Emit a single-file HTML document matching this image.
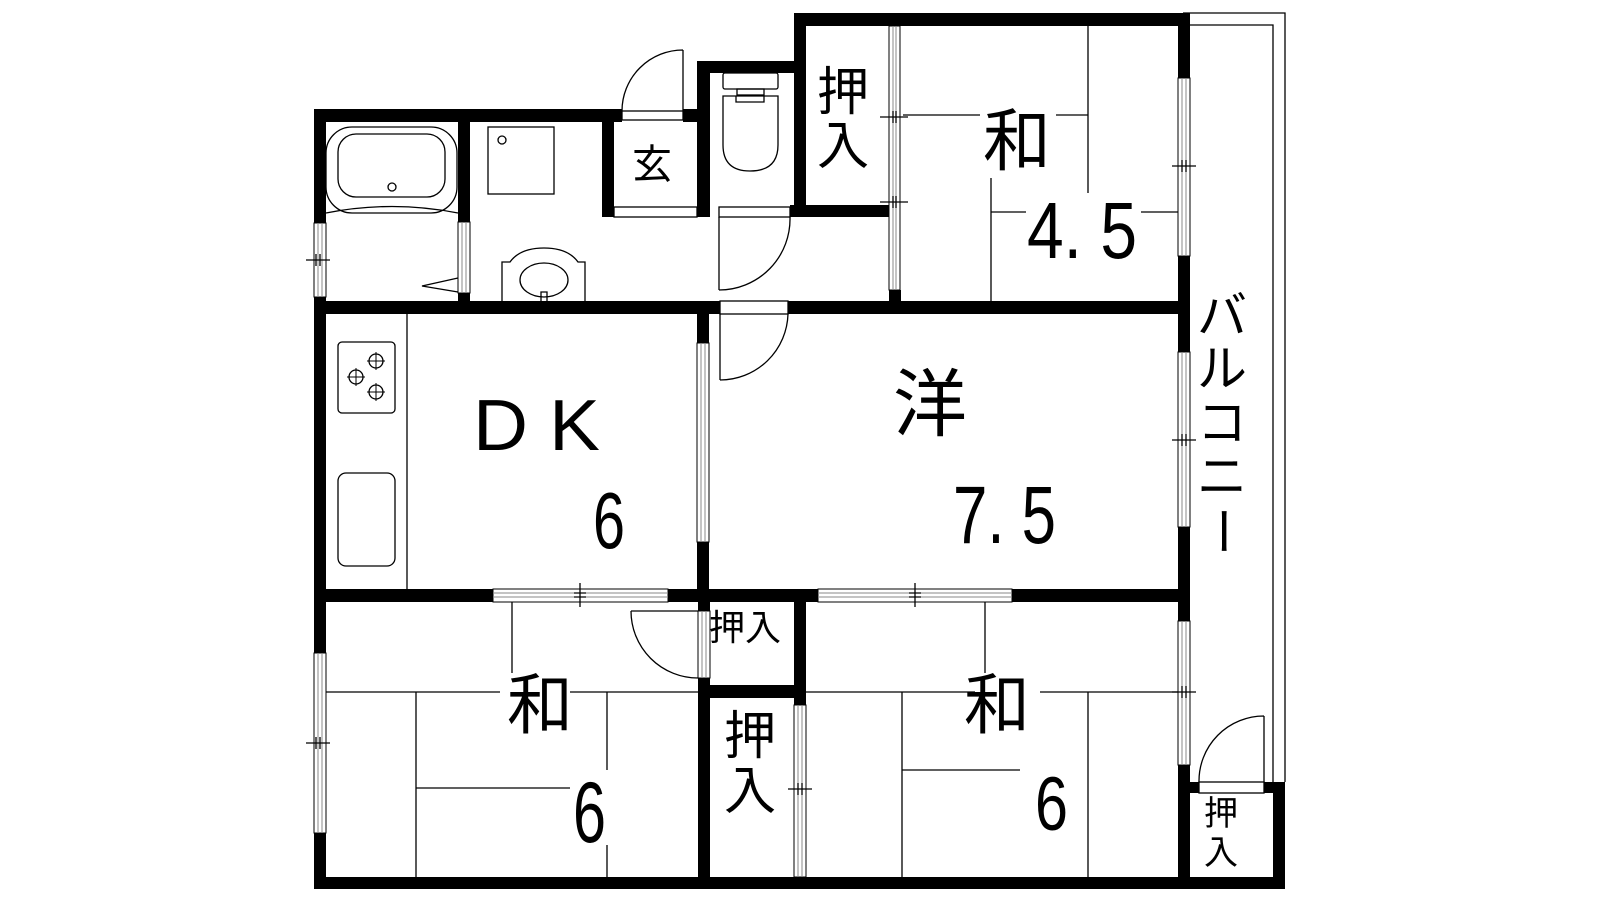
<!DOCTYPE html>
<html><head><meta charset="utf-8"><style>
html,body{margin:0;padding:0;background:#fff;}
svg{display:block;}
text{font-family:"Liberation Sans","Noto Sans CJK JP",sans-serif;fill:#000;}
.j{font-family:"Noto Sans CJK JP","Liberation Sans",sans-serif;}
</style></head><body>
<svg width="1600" height="900" viewBox="0 0 1600 900" xmlns="http://www.w3.org/2000/svg">
<rect width="1600" height="900" fill="#fff"/>
<g fill="none" stroke="#000" stroke-width="1.3">
<path d="M1183 13 H1285 V782"/>
<path d="M1190 25 H1273 V782"/>
<path d="M1088 26 V193 M903 115 H980 M1056 115 H1088 M991 178 V301 M991 212 H1026 M1141 212 H1178"/>
<path d="M512 602 V673 M326 692 H500 M570 692 H698 M416 692 V877 M416 788 H570 M607 692 V770 M607 845 V877"/>
<path d="M985 602 V673 M806 692 H975 M1040 692 H1178 M902 692 V877 M902 770 H1020 M1088 692 V877"/>
<path d="M407 314 V589"/>
<rect x="338" y="342" width="57" height="71" rx="4"/>
<rect x="338" y="473" width="57" height="93" rx="8"/>
<circle cx="356" cy="377" r="7"/><circle cx="376" cy="361" r="7"/><circle cx="376" cy="392" r="7"/>
<path d="M356 368v18M347 377h18M376 352v18M367 361h18M376 383v18M367 392h18" stroke-width="1"/>
<rect x="326" y="127" width="131" height="86" rx="26"/>
<rect x="338" y="134" width="107" height="63" rx="18"/>
<circle cx="392" cy="187" r="4"/>
<path d="M326 213 Q392 200 458 213"/>
<path d="M458 278 L422 286 L458 292"/>
<rect x="488" y="127" width="66" height="67"/>
<circle cx="502" cy="140" r="4"/>
<path d="M502 301 V262 H510 Q520 248 544 248 Q568 248 578 262 H585 V301"/>
<ellipse cx="544" cy="280" rx="24" ry="17"/>
<path d="M541 301 V292 H547 V301"/>
<rect x="723" y="73" width="55" height="16" rx="2"/>
<rect x="737" y="89" width="27" height="6"/>
<path d="M723 96 H778 V145 Q778 171 750 171 Q723 171 723 145 Z"/>
<path d="M736 96 V102 H764 V96"/>
<path d="M683 50 V111 M683 50 A61 61 0 0 0 622 111"/>
<rect x="622" y="111" width="61" height="9"/>
<path d="M719 217 V290 M719 290 A71 71 0 0 0 790 217"/>
<rect x="719" y="207" width="71" height="10"/>
<rect x="614" y="207" width="83" height="10"/>
<path d="M720 314 V380 M720 380 A68 68 0 0 0 788 314"/>
<rect x="720" y="301" width="68" height="13"/>
<path d="M631 611 H698 M631 611 A67 67 0 0 0 698 678"/>
<path d="M1264 716 V782 M1264 716 A65 65 0 0 0 1199 782"/>
<rect x="1199" y="782" width="65" height="11"/>
</g>
<g fill="#fff" stroke="#000" stroke-width="1">
<rect x="314" y="223" width="12" height="74"/><path d="M318 223v74M322 223v74" stroke="#888"/>
<rect x="458" y="222" width="12" height="71"/><path d="M462 222v71M466 222v71" stroke="#888"/>
<rect x="889" y="26" width="11" height="264"/><path d="M893 26v264M896 26v264" stroke="#888"/>
<rect x="1178" y="78" width="12" height="178"/><path d="M1182 78v178M1186 78v178" stroke="#888"/>
<rect x="1178" y="352" width="12" height="175"/><path d="M1182 352v175M1186 352v175" stroke="#888"/>
<rect x="1178" y="621" width="12" height="144"/><path d="M1182 621v144M1186 621v144" stroke="#888"/>
<rect x="697" y="343" width="12" height="199"/><path d="M701 343v199M705 343v199" stroke="#888"/>
<rect x="493" y="589" width="175" height="13"/><path d="M493 593h175M493 597h175" stroke="#888"/>
<rect x="818" y="589" width="194" height="13"/><path d="M818 593h194M818 597h194" stroke="#888"/>
<rect x="698" y="611" width="12" height="67"/><path d="M702 611v67M706 611v67" stroke="#888"/>
<rect x="794" y="705" width="12" height="172"/><path d="M798 705v172M802 705v172" stroke="#888"/>
<rect x="314" y="653" width="12" height="180"/><path d="M318 653v180M322 653v180" stroke="#888"/>
</g>
<g stroke="#000" stroke-width="1.3" fill="none">
<path d="M306 260h24M316 254v12M320 254v12"/>
<path d="M306 743h24M316 737v12M320 737v12"/>
<path d="M880 117h28M893 111v12M896 111v12M880 202h28M893 196v12M896 196v12"/>
<path d="M1172 166h24M1182 160v12M1186 160v12"/>
<path d="M1172 440h24M1182 434v12M1186 434v12"/>
<path d="M1172 692h24M1182 686v12M1186 686v12"/>
<path d="M788 789h24M798 783v12M802 783v12"/>
<path d="M580 583v24M574 593h12M574 597h12"/>
<path d="M915 583v24M909 593h12M909 597h12"/>
</g>
<g fill="#000">
<rect x="314" y="109" width="12" height="114"/>
<rect x="314" y="297" width="12" height="356"/>
<rect x="314" y="833" width="12" height="56"/>
<rect x="314" y="109" width="308" height="13"/>
<rect x="683" y="109" width="27" height="13"/>
<rect x="602" y="109" width="12" height="108"/>
<rect x="697" y="61" width="13" height="156"/>
<rect x="697" y="61" width="109" height="12"/>
<rect x="794" y="13" width="12" height="204"/>
<rect x="794" y="13" width="396" height="13"/>
<rect x="790" y="205" width="99" height="12"/>
<rect x="889" y="290" width="12" height="11"/>
<rect x="458" y="109" width="12" height="113"/>
<rect x="458" y="293" width="12" height="8"/>
<rect x="314" y="301" width="406" height="13"/>
<rect x="788" y="301" width="402" height="13"/>
<rect x="1178" y="13" width="12" height="65"/>
<rect x="1178" y="256" width="12" height="96"/>
<rect x="1178" y="527" width="12" height="94"/>
<rect x="1178" y="765" width="12" height="124"/>
<rect x="697" y="314" width="12" height="29"/>
<rect x="697" y="542" width="12" height="47"/>
<rect x="314" y="589" width="179" height="13"/>
<rect x="668" y="589" width="150" height="13"/>
<rect x="1012" y="589" width="178" height="13"/>
<rect x="698" y="602" width="12" height="9"/>
<rect x="698" y="678" width="12" height="211"/>
<rect x="794" y="602" width="12" height="103"/>
<rect x="698" y="685" width="108" height="13"/>
<rect x="314" y="877" width="971" height="12"/>
<rect x="1190" y="782" width="9" height="11"/>
<rect x="1264" y="782" width="21" height="11"/>
<rect x="1273" y="782" width="12" height="107"/>
</g>
<g class="j" text-anchor="middle">
<text x="652" y="178" font-size="40" class="j">玄</text>
<text x="843" y="110" font-size="52" class="j">押</text>
<text x="843" y="164" font-size="52" class="j">入</text>
<text x="1017" y="165" font-size="68" class="j">和</text>
<text x="930" y="430" font-size="74" class="j">洋</text>
<text x="540" y="728" font-size="66" class="j">和</text>
<text x="997" y="728" font-size="66" class="j">和</text>
<text x="745" y="640" font-size="36" class="j">押入</text>
<text x="750" y="754" font-size="52" class="j">押</text>
<text x="750" y="809" font-size="52" class="j">入</text>
<text x="1221" y="825" font-size="34" class="j">押</text>
<text x="1221" y="864" font-size="34" class="j">入</text>
<text x="1222" y="333" font-size="50" class="j">バ</text>
<text x="1222" y="386" font-size="50" class="j">ル</text>
<text x="1222" y="440" font-size="50" class="j">コ</text>
<text x="1222" y="494" font-size="50" class="j">ニ</text>
<text x="1222" y="548" font-size="50" class="j" transform="rotate(90 1222 531)">ー</text>
</g>
<g>
<text x="473" y="450" font-size="72" textLength="127" lengthAdjust="spacingAndGlyphs">D K</text>
<text x="593" y="548" font-size="80" textLength="32" lengthAdjust="spacingAndGlyphs">6</text>
<text x="1027" y="258" font-size="80" textLength="110" lengthAdjust="spacingAndGlyphs">4. 5</text>
<text x="953" y="543" font-size="82" textLength="103" lengthAdjust="spacingAndGlyphs">7. 5</text>
<text x="573" y="842" font-size="86" textLength="33" lengthAdjust="spacingAndGlyphs">6</text>
<text x="1035" y="830" font-size="76" textLength="33" lengthAdjust="spacingAndGlyphs">6</text>
</g>
</svg>
</body></html>
